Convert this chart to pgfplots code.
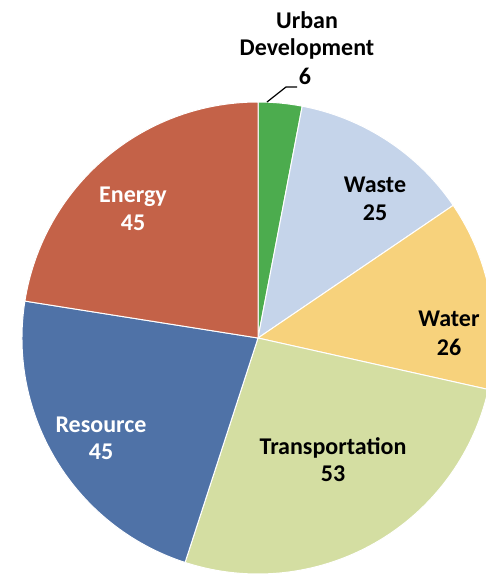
\documentclass[border=0pt]{standalone}
\usepackage{pgfplots}
\usepackage{pgfplotstable}
\pgfplotsset{compat=1.18}
\usepackage{fontspec}
\setmainfont{Carlito}
\definecolor{cUrban}{RGB}{76,172,78}
\definecolor{cWaste}{RGB}{197,212,234}
\definecolor{cWater}{RGB}{247,210,124}
\definecolor{cTrans}{RGB}{212,222,162}
\definecolor{cRes}{RGB}{79,114,167}
\definecolor{cEnergy}{RGB}{196,98,72}
\pgfplotstableread{
name value col
Urban 6 cUrban
Waste 25 cWaste
Water 26 cWater
Transportation 53 cTrans
Resource 45 cRes
Energy 45 cEnergy
}\piedata
\tikzset{lab/.style={anchor=base, inner sep=0pt, font=\fontsize{12}{14}\selectfont\bfseries}}
\begin{document}
\begin{tikzpicture}
\begin{axis}[
  scale only axis, width=243pt, height=290pt,
  xmin=0, xmax=486, ymin=0, ymax=580,
  hide axis, clip=true,
]
\addplot[draw=none] coordinates {(0,0) (486,580)};
\pgfmathsetmacro\cum{90}
\pgfplotsforeachungrouped \i in {0,...,5}{
  \pgfplotstablegetelem{\i}{value}\of\piedata \let\v\pgfplotsretval
  \pgfplotstablegetelem{\i}{col}\of\piedata \let\c\pgfplotsretval
  \pgfmathsetmacro\endang{\cum - \v*1.8}
  \edef\temp{\noexpand\filldraw[fill=\c, draw=white, line width=0.5pt] (axis cs:258,242) -- ++(\cum:118pt) arc[start angle=\cum, end angle=\endang, radius=118pt] -- cycle;}
  \temp
  \global\let\cum\endang
}
% Labels
\node[lab] at (axis cs:307,552) {Urban};
\node[lab] at (axis cs:307,524) {Development};
\node[lab] at (axis cs:305,495) {6};
\draw[black, line width=0.6pt] (axis cs:267,478) -- (axis cs:286,493) -- (axis cs:297,493);
\node[lab, text=white] at (axis cs:133,378) {Energy};
\node[lab, text=white] at (axis cs:133,350) {45};
\node[lab] at (axis cs:375,387) {Waste};
\node[lab] at (axis cs:375,359) {25};
\node[lab] at (axis cs:449,253) {Water};
\node[lab] at (axis cs:449,225) {26};
\node[lab, text=white] at (axis cs:101,148) {Resource};
\node[lab, text=white] at (axis cs:101,120) {45};
\node[lab] at (axis cs:333,126) {Transportation};
\node[lab] at (axis cs:333,98) {53};
\end{axis}
\end{tikzpicture}
\end{document}
